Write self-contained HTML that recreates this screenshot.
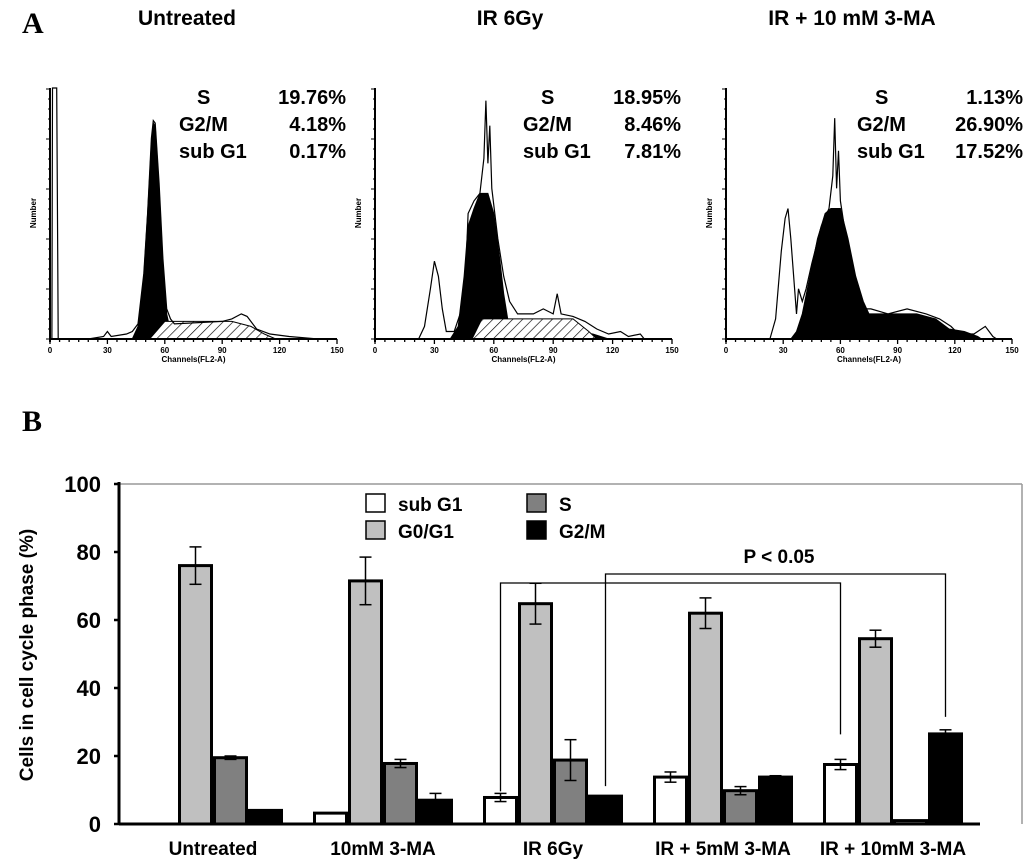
<!DOCTYPE html>
<html><head><meta charset="utf-8"><style>
html,body{margin:0;padding:0;background:#fff;}
svg{display:block;font-family:"Liberation Sans",Arial,sans-serif;}
.b{font-weight:bold;}
</style></head><body>
<svg id="fig" width="1033" height="866" viewBox="0 0 1033 866" xmlns="http://www.w3.org/2000/svg">
<defs>
<pattern id="hatch" width="7" height="7" patternUnits="userSpaceOnUse" patternTransform="rotate(45)">
<rect width="7" height="7" fill="#fff"/><line x1="0" y1="0" x2="0" y2="7" stroke="#000" stroke-width="1.3"/>
</pattern>
</defs>
<text x="22" y="33" font-family="Liberation Serif,serif" font-weight="bold" font-size="30">A</text>
<text x="22" y="431" font-family="Liberation Serif,serif" font-weight="bold" font-size="30">B</text>
<g id="histos"></g>
<g id="bars"></g>
</svg>
<script>
const NS='http://www.w3.org/2000/svg';
function mk(tag,attrs,parent,txt){const e=document.createElementNS(NS,tag);for(const k in attrs)e.setAttribute(k,attrs[k]);if(txt!==undefined)e.textContent=txt;parent.appendChild(e);return e;}

// ---------- Panel A data ----------
const histTitles=['Untreated','IR 6Gy','IR + 10 mM 3-MA'];
const statLabels=['S','G2/M','sub G1'];
const statValues=[['19.76%','4.18%','0.17%'],['18.95%','8.46%','7.81%'],['1.13%','26.90%','17.52%']];
const outline1=[[1,0],[1.3,1],[3.5,1],[4,0.35],[4.3,0],[20,0],[28,0.01],[30,0.03],[32,0.01],[40,0.02],[43,0.03],[46,0.06],[49,0.26],[51,0.5],[53,0.8],[54,0.87],[55,0.86],[57,0.62],[59,0.32],[61,0.12],[63,0.08],[65,0.06],[90,0.07],[95,0.08],[100,0.1],[103,0.09],[108,0.04],[115,0.02],[125,0.01],[140,0]];
const fill1=[[43,0],[46,0.05],[49,0.25],[51,0.5],[53,0.78],[54,0.86],[55,0.85],[57,0.6],[59,0.3],[61,0.1],[63,0.03],[65,0]];
const hatch1=[[52,0],[60,0.07],[95,0.07],[105,0.05],[112,0.02],[118,0]];
const outline2=[[22,0],[25,0.05],[28,0.2],[30,0.31],[32,0.25],[34,0.12],[36,0.03],[40,0.03],[43,0.1],[46,0.3],[47,0.5],[50,0.55],[53,0.58],[55,0.72],[56,0.95],[57,0.7],[58,0.85],[59,0.6],[62,0.4],[65,0.25],[68,0.15],[72,0.1],[80,0.1],[85,0.12],[90,0.1],[92,0.18],[94,0.1],[100,0.09],[106,0.07],[112,0.04],[118,0.02],[124,0.03],[128,0.01],[134,0.02],[136,0]];
const fill2=[[38,0],[42,0.05],[45,0.25],[47,0.45],[50,0.52],[53,0.58],[57,0.58],[60,0.5],[63,0.32],[65,0.18],[67,0.08],[70,0.02],[75,0.02],[95,0.03],[110,0.02],[118,0]];
const hatch2=[[49,0],[54,0.08],[100,0.08],[108,0.03],[112,0]];
const outline3=[[23,0],[26,0.08],[29,0.35],[31,0.48],[32.5,0.52],[34,0.4],[36,0.2],[37,0.1],[38,0.2],[40,0.15],[42,0.2],[45,0.3],[50,0.45],[54,0.52],[56,0.65],[57,0.88],[58,0.6],[59,0.75],[60,0.55],[64,0.35],[68,0.2],[72,0.12],[76,0.12],[85,0.1],[95,0.12],[105,0.1],[112,0.08],[118,0.05],[122,0.02],[130,0.02],[136,0.05],[140,0.01],[142,0]];
const fill3=[[34,0],[37,0.03],[40,0.1],[44,0.25],[48,0.4],[52,0.5],[55,0.52],[60,0.52],[64,0.4],[68,0.25],[72,0.15],[75,0.1],[100,0.1],[110,0.08],[117,0.04],[125,0.03],[132,0.01],[134,0]];
const histX0=[50,375,726];
const histW=[287,297,286];
const histBase=339, histH=251;
const chTicks=[0,30,60,90,120,150];

const H=document.getElementById('histos');
const outlines=[outline1,outline2,outline3], fills=[fill1,fill2,fill3], hatches=[hatch1,hatch2,null];
const statLX=[179,523,857], statRX=[346,681,1023], titleX=[187,510,852];
for(let p=0;p<3;p++){
  const g=mk('g',{},H);
  
  
  const sx=c=>histX0[p]+c/150*histW[p];
  const sy=v=>histBase-v*histH;
  const pts=a=>a.map(d=>sx(d[0]).toFixed(1)+','+sy(d[1]).toFixed(1)).join(' ');
  const t=mk('text',{x:titleX[p],y:25,'text-anchor':'middle','font-size':21,'class':'b'},g,histTitles[p]);
  
  
  for(let i=0;i<3;i++){
    const l=mk('text',{x:statLX[p]+(i===0?18:0),y:104+i*27,'font-size':20,'class':'b'},g,statLabels[i]);
    
    
    const v=mk('text',{x:statRX[p],y:104+i*27,'font-size':20,'class':'b','text-anchor':'end'},g,statValues[p][i]);
    
    
  }
  const hl=hatches[p];
  const f=mk('polygon',{points:pts(fills[p]),fill:'#000',stroke:'#000','stroke-width':1},g);
  
  
  if(hl){const h=mk('polygon',{points:pts(hl),fill:'url(#hatch)',stroke:'#000','stroke-width':1},g);
  
  }
  const o=mk('polyline',{points:pts(outlines[p]),fill:'none',stroke:'#000','stroke-width':1.2},g);
  
  
  mk('line',{x1:histX0[p],y1:88,x2:histX0[p],y2:histBase+3,stroke:'#000','stroke-width':2},g);
  mk('line',{x1:histX0[p],y1:histBase,x2:histX0[p]+histW[p],y2:histBase,stroke:'#000','stroke-width':2},g);
  for(let k=0;k<=30;k++){const x=sx(k*5);mk('line',{x1:x,y1:histBase,x2:x,y2:histBase+(k%6===0?5:3),stroke:'#000','stroke-width':1.3},g);}
  for(let k=0;k<=25;k++){const y=histBase-k*10;mk('line',{x1:histX0[p]-(k%5===0?4:2),y1:y,x2:histX0[p],y2:y,stroke:'#000','stroke-width':1},g);}
  chTicks.forEach(c=>mk('text',{x:sx(c),y:histBase+14,'font-size':8,'class':'b','text-anchor':'middle'},g,c));
  const xl=mk('text',{x:sx(75),y:histBase+23,'font-size':8,'class':'b','text-anchor':'middle'},g,'Channels(FL2-A)');
  
  
  const yl=mk('text',{x:0,y:0,'font-size':8,'class':'b','text-anchor':'middle',transform:`translate(${histX0[p]-14},213) rotate(-90)`},g,'Number');
  
  
}

// ---------- Panel B data ----------
const categories=['Untreated','10mM 3-MA','IR 6Gy','IR + 5mM 3-MA','IR + 10mM 3-MA'];
const seriesNames=['sub G1','G0/G1','S','G2/M'];
const subG1=[0,3.2,7.8,13.8,17.5];
const subG1Err=[0,0,1.2,1.5,1.5];
const g0g1=[76,71.5,64.8,62,54.5];
const g0g1Err=[5.5,7,6,4.5,2.5];
const sPhase=[19.5,17.8,18.8,9.8,1];
const sErr=[0.5,1.2,6,1.2,0];
const g2m=[4,7,8.2,13.8,26.5];
const g2mErr=[0,2,0,0.4,1.2];
const yTicks=[0,20,40,60,80,100];
const seriesFill=['#fff','#c0c0c0','#808080','#000'];

const B=document.getElementById('bars');
const y0=824,yTop=484,xL=119,xR=1022;
const ys=v=>y0-(v/100)*(y0-yTop);
const groupStart=i=>143+i*170;
const bw=35;
const xs=(i,s)=>groupStart(i)+s*bw;

mk('line',{x1:xL,y1:yTop,x2:xR,y2:yTop,stroke:'#999','stroke-width':1.5},B);
mk('line',{x1:xR,y1:yTop,x2:xR,y2:y0,stroke:'#999','stroke-width':1.5},B);
yTicks.forEach(t=>{
  mk('line',{x1:xL-5,y1:ys(t),x2:xL,y2:ys(t),stroke:'#000','stroke-width':2.5},B);
  const tl=mk('text',{x:101,y:ys(t)+8,'font-size':22,'class':'b','text-anchor':'end'},B,t);
  
  
});
const yt=mk('text',{x:0,y:0,'font-size':19,'class':'b','text-anchor':'middle',transform:'translate(33,655) rotate(-90)'},B,'Cells in cell cycle phase (%)');



const allVals=[subG1,g0g1,sPhase,g2m], allErr=[subG1Err,g0g1Err,sErr,g2mErr];
categories.forEach((c,i)=>{
  for(let s=0;s<4;s++){
    const v=allVals[s][i];
    const r=mk('rect',{x:xs(i,s)+1.5,y:ys(v),width:bw-3,height:y0-ys(v),fill:seriesFill[s],stroke:'#000','stroke-width':3},B);
    
    
    const e=allErr[s][i];
    if(e>0){
      const cx=xs(i,s)+bw/2;
      mk('line',{x1:cx,y1:ys(v+e),x2:cx,y2:ys(v-e),stroke:'#000','stroke-width':1.5},B);
      mk('line',{x1:cx-6,y1:ys(v+e),x2:cx+6,y2:ys(v+e),stroke:'#000','stroke-width':1.5},B);
      mk('line',{x1:cx-6,y1:ys(v-e),x2:cx+6,y2:ys(v-e),stroke:'#000','stroke-width':1.5},B);
    }
  }
  const xl=mk('text',{x:groupStart(i)+2*bw,y:855,'font-size':19,'class':'b','text-anchor':'middle'},B,c);
  
  
});
mk('line',{x1:xL,y1:yTop-2,x2:xL,y2:y0+1,stroke:'#000','stroke-width':3},B);
mk('line',{x1:xL,y1:y0,x2:980,y2:y0,stroke:'#000','stroke-width':3},B);

// legend
const legPos=[[366,498],[366,525],[527,498],[527,525]];
seriesNames.forEach((n,s)=>{
  const lg=mk('g',{},B);
  
  
  mk('rect',{x:legPos[s][0],y:legPos[s][1]-4,width:19,height:18,fill:seriesFill[s],stroke:'#000','stroke-width':1.5},lg);
  mk('text',{x:legPos[s][0]+32,y:legPos[s][1]+13,'font-size':19,'class':'b'},lg,n);
});

// significance brackets (anchored to bars)
function bracket(i1,s1,i2,s2,topY,low1,low2){
  const x1=xs(i1,s1)+bw/2,x2=xs(i2,s2)+bw/2;
  const p=mk('polyline',{points:`${x1},${low1} ${x1},${topY} ${x2},${topY} ${x2},${low2}`,fill:'none',stroke:'#000','stroke-width':1.3},B);
  
  
}
bracket(2,0,4,0,583,ys(subG1[2]+subG1Err[2])-2,ys(subG1[4]+subG1Err[4])-25);
bracket(2,3,4,3,574,ys(g2m[2])-10,ys(g2m[4]+g2mErr[4])-13);
const pv=mk('text',{x:779,y:563,'font-size':19,'class':'b','text-anchor':'middle'},B,'P < 0.05');


</script>
</body></html>
